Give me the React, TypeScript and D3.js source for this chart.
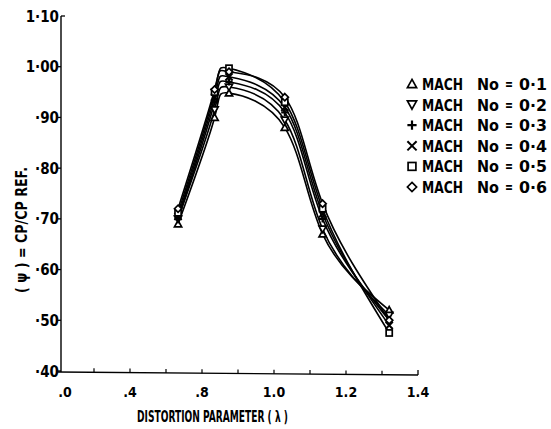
import React from 'react';
import * as d3 from 'd3';

// distortion parameter (lambda) stations
const lambdas = [0.667, 0.835, 0.875, 1.03, 1.135, 1.32];

const mach01 = [0.69, 0.9, 0.948, 0.88, 0.67, 0.52];
const mach02 = [0.7, 0.915, 0.96, 0.895, 0.68, 0.51];
const mach03 = [0.7, 0.93, 0.97, 0.91, 0.7, 0.5];
const mach04 = [0.705, 0.94, 0.98, 0.92, 0.71, 0.49];
const mach05 = [0.712, 0.95, 0.997, 0.93, 0.72, 0.475];
const mach06 = [0.72, 0.955, 0.99, 0.94, 0.73, 0.5];

const series = [
  { key: 'tri', label: '0·1', values: mach01 },
  { key: 'itri', label: '0·2', values: mach02 },
  { key: 'plus', label: '0·3', values: mach03 },
  { key: 'cross', label: '0·4', values: mach04 },
  { key: 'square', label: '0·5', values: mach05 },
  { key: 'diamond', label: '0·6', values: mach06 },
];

const yTicks = [1.1, 1.0, 0.9, 0.8, 0.7, 0.6, 0.5, 0.4];
const yTickLabels = ['1·10', '1·00', '·90', '·80', '·70', '·60', '·50', '·40'];
const xTicks = [0, 0.2, 0.4, 0.6, 0.8, 0.9, 1.0, 1.1, 1.2, 1.3, 1.4];
const xTickLabels = ['.0', '', '.4', '', '.8', '', '1.0', '', '1.2', '', '1.4'];

const font = '"DejaVu Sans Condensed", "DejaVu Sans", sans-serif';

const marker = (kind: string, cx: number, cy: number, s = 3.6) => {
  const st = { fill: 'white', stroke: 'black', strokeWidth: 1.7 };
  switch (kind) {
    case 'tri':
      return <path d={`M${cx},${cy - s}L${cx + s},${cy + s * 0.8}L${cx - s},${cy + s * 0.8}Z`} style={st} />;
    case 'itri':
      return <path d={`M${cx},${cy + s}L${cx + s},${cy - s * 0.8}L${cx - s},${cy - s * 0.8}Z`} style={st} />;
    case 'plus':
      return <path d={`M${cx - s},${cy}H${cx + s}M${cx},${cy - s}V${cy + s}`} style={{ stroke: 'black', strokeWidth: 2.2 }} />;
    case 'cross':
      return <path d={`M${cx - s},${cy - s}L${cx + s},${cy + s}M${cx + s},${cy - s}L${cx - s},${cy + s}`} style={{ stroke: 'black', strokeWidth: 2 }} />;
    case 'square':
      return <rect x={cx - s * 0.85} y={cy - s * 0.85} width={s * 1.7} height={s * 1.7} style={st} />;
    default:
      return <path d={`M${cx},${cy - s}L${cx + s},${cy}L${cx},${cy + s}L${cx - s},${cy}Z`} style={st} />;
  }
};

const App = () => {
  const width = 551,
    height = 429;

  // broken axis: 0-0.8 compressed, 0.8-1.4 expanded
  const x = d3.scaleLinear().domain([0, 0.8, 1.4]).range([58, 202, 418]);
  const y = d3.scaleLinear().domain([0.4, 1.1]).range([371, 16]);

  const line = d3
    .line<number>()
    .x((d, i) => x(lambdas[i]))
    .y((d) => y(d))
    .curve(d3.curveNatural);

  const bold = { fontFamily: font, fontWeight: 'bold' as const };

  return (
    <svg width={width} height={height} style={{ position: 'absolute', left: 0, top: 0, background: 'white' }}>
      {/* axes */}
      <line x1={61} y1={y(1.1)} x2={61} y2={y(0.4) + 1} stroke="black" strokeWidth={1.4} />
      <line x1={x(0)} y1={y(0.4) + 1} x2={x(1.4)} y2={y(0.4) + 4} stroke="black" strokeWidth={1.4} />
      <line x1={x(1.4)} y1={y(0.4) + 4} x2={x(1.4)} y2={y(0.4) - 1} stroke="black" strokeWidth={1.3} />
      {yTicks.map((t, i) => (
        <g key={'y' + i}>
          <line x1={i === 0 ? 61 : 58} x2={i === 0 ? 65 : 61} y1={y(t)} y2={y(t)} stroke="black" strokeWidth={1.3} />
          <text x={59} y={y(t) + 5.5} textAnchor="end" style={{ ...bold, fontSize: 15 }}>
            {yTickLabels[i]}
          </text>
        </g>
      ))}
      {xTicks.map((t, i) => {
        const base = y(0.4) + 1 + (3 * (x(t) - x(0))) / (x(1.4) - x(0));
        return (
          <g key={'x' + i}>
            {i > 0 && i < xTicks.length - 1 && (
              <line x1={x(t)} x2={x(t)} y1={base} y2={base - 4} stroke="black" strokeWidth={1.2} />
            )}
            <text x={x(t) + (i === 0 ? 7 : 0)} y={397} textAnchor="middle" style={{ ...bold, fontSize: 14 }}>
              {xTickLabels[i]}
            </text>
          </g>
        );
      })}
      <text x={137} y={422} textLength={151} lengthAdjust="spacingAndGlyphs" style={{ ...bold, fontSize: 16.5 }}>
        DISTORTION PARAMETER ( λ )
      </text>
      <text
        transform="translate(27,293) rotate(-90)"
        textLength={126}
        lengthAdjust="spacingAndGlyphs"
        style={{ ...bold, fontSize: 15.5 }}
      >
        ( ψ ) = CP/CP REF.
      </text>

      {/* curves */}
      {series.map((s) => (
        <path key={'l' + s.key} d={line(s.values) || ''} fill="none" stroke="black" strokeWidth={1.6} />
      ))}
      {series.map((s) =>
        s.values.map((v, i) => <g key={s.key + i}>{marker(s.key, x(lambdas[i]), y(v))}</g>)
      )}

      {/* legend */}
      {series.map((s, i) => {
        const ly = 90 + i * 20.6;
        return (
          <g key={'lg' + s.key}>
            {marker(s.key, 412, ly - 6, 4.6)}
            <text x={422} y={ly} textLength={41} lengthAdjust="spacingAndGlyphs" style={{ ...bold, fontSize: 16.5 }}>
              MACH
            </text>
            <text x={477} y={ly} textLength={22} lengthAdjust="spacingAndGlyphs" style={{ ...bold, fontSize: 16.5 }}>
              No
            </text>
            <text x={505} y={ly - 1} textLength={8} lengthAdjust="spacingAndGlyphs" style={{ ...bold, fontSize: 15 }}>
              =
            </text>
            <text x={519} y={ly} textLength={28} lengthAdjust="spacingAndGlyphs" style={{ ...bold, fontSize: 16.5 }}>
              {s.label}
            </text>
          </g>
        );
      })}
    </svg>
  );
};

export default App;
